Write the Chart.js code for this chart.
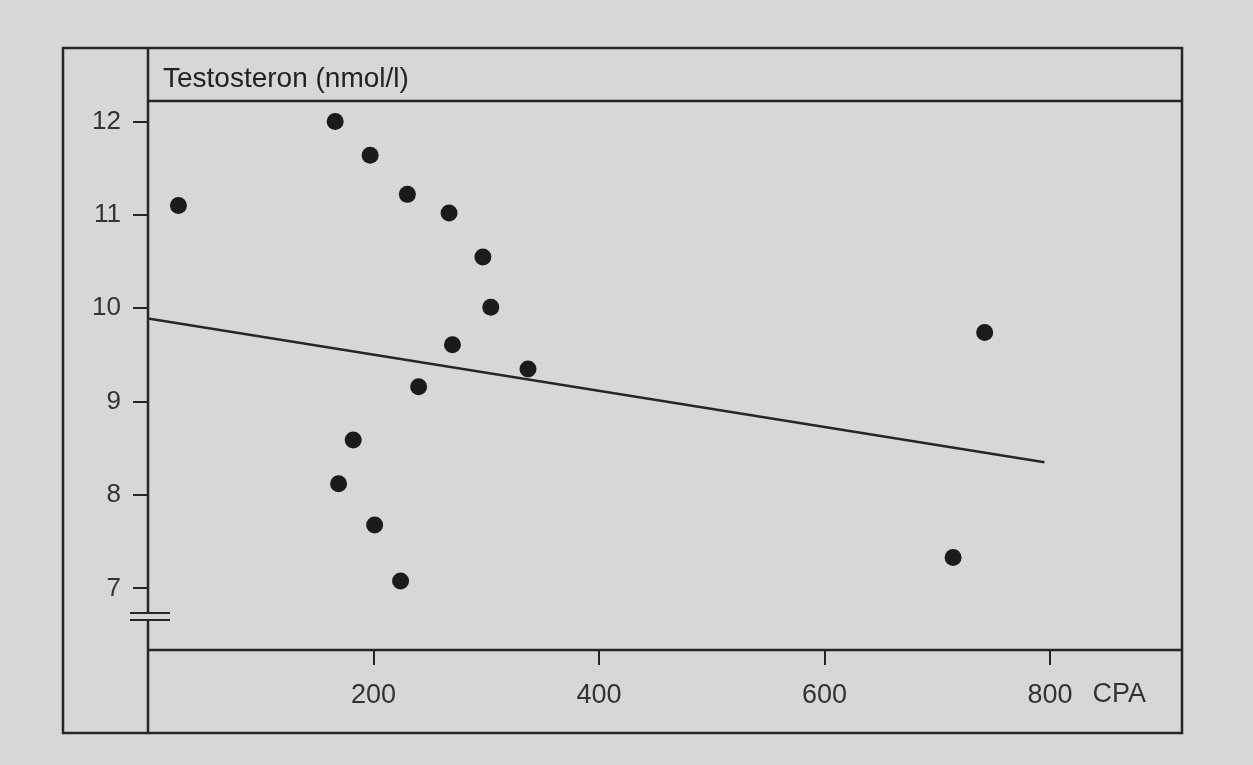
<!DOCTYPE html>
<html>
<head>
<meta charset="utf-8">
<title>Testosteron vs. CPA</title>
<script src="https://cdn.jsdelivr.net/npm/chart.js@4.4.0/dist/chart.umd.min.js"></script>
<style>
    html, body { margin: 0; padding: 0; background: #d7d7d7; }
    canvas { display: block; }
</style>
</head>
<body>
<canvas id="chart" width="1253" height="765"></canvas>
<script>
// Patients: CPA dose vs. serum testosterone
const cpaDose = [27, 166, 197, 230, 267, 297, 304, 270, 337, 240, 182, 169, 201, 224, 742, 714];
const testosterone = [11.10, 12.00, 11.64, 11.22, 11.02, 10.55, 10.01, 9.61, 9.35, 9.16, 8.59, 8.12, 7.68, 7.08, 9.74, 7.33];

// regression line (start / end)
const trendX = [0, 795];
const trendY = [9.89, 8.35];

const xTicks = [200, 400, 600, 800];
const yTicks = [7, 8, 9, 10, 11, 12];
const yTitle = 'Testosteron (nmol/l)';
const xUnit = 'CPA';

const ink = '#262626';
const paper = '#d7d7d7';
const fontFamily = '"Liberation Sans", Arial, Helvetica, sans-serif';

// Draws the box around the figure, the title band, the axis lines and the axis break
const framePlugin = {
    id: 'frame',
    afterDraw(chart) {
        const { ctx, chartArea: a, scales } = chart;
        const boxLeft = chart.options.layout.padding.left;
        const boxTop = 48;
        const boxBottom = scales.x.bottom;

        ctx.save();
        ctx.strokeStyle = ink;
        ctx.lineWidth = 2.5;

        // outer box
        ctx.strokeRect(boxLeft, boxTop, a.right - boxLeft, boxBottom - boxTop);

        // y axis line, full height
        ctx.beginPath();
        ctx.moveTo(a.left, boxTop);
        ctx.lineTo(a.left, boxBottom);
        // title band line
        ctx.moveTo(a.left, a.top);
        ctx.lineTo(a.right, a.top);
        // x axis line
        ctx.moveTo(a.left, a.bottom);
        ctx.lineTo(a.right, a.bottom);
        ctx.stroke();

        // axis break below 7
        const yb = scales.y.getPixelForValue(6.7);
        ctx.fillStyle = paper;
        ctx.fillRect(a.left - 3, yb - 3, 6, 6);
        ctx.lineWidth = 2;
        ctx.beginPath();
        ctx.moveTo(a.left - 18, yb - 3.5);
        ctx.lineTo(a.left + 22, yb - 3.5);
        ctx.moveTo(a.left - 18, yb + 3.5);
        ctx.lineTo(a.left + 22, yb + 3.5);
        ctx.stroke();

        // y title inside the band
        ctx.fillStyle = '#222';
        ctx.font = '28px ' + fontFamily;
        ctx.textBaseline = 'alphabetic';
        ctx.textAlign = 'left';
        ctx.fillText(yTitle, a.left + 15, 87);

        // unit next to the last x tick label
        ctx.font = '27px ' + fontFamily;
        ctx.fillStyle = '#333';
        const last = xTicks[xTicks.length - 1];
        const px = scales.x.getPixelForValue(last) + ctx.measureText(String(last)).width / 2 + 20;
        ctx.textBaseline = 'middle';
        ctx.fillText(xUnit, px, 695);
        ctx.restore();
    }
};

new Chart(document.getElementById('chart'), {
    type: 'scatter',
    data: {
        datasets: [
            {
                label: 'Testosteron',
                data: cpaDose.map((x, i) => ({ x: x, y: testosterone[i] })),
                pointRadius: 8.5,
                pointBackgroundColor: '#1b1b1b',
                pointBorderWidth: 0
            },
            {
                type: 'line',
                label: 'Trend',
                data: trendX.map((x, i) => ({ x: x, y: trendY[i] })),
                borderColor: ink,
                borderWidth: 2.5,
                pointRadius: 0,
                fill: false
            }
        ]
    },
    options: {
        responsive: false,
        animation: false,
        layout: {
            padding: { left: 63, top: 101, right: 71, bottom: 32 }
        },
        scales: {
            x: {
                type: 'linear',
                min: 0,
                max: 917,
                afterBuildTicks: (scale) => { scale.ticks = xTicks.map(v => ({ value: v })); },
                afterFit: (scale) => { scale.height = 83; },
                grid: { drawOnChartArea: false, drawTicks: true, tickLength: 15, color: ink, lineWidth: 2 },
                border: { display: false },
                ticks: {
                    color: '#333',
                    padding: 14,
                    font: { family: fontFamily, size: 27 }
                }
            },
            y: {
                type: 'linear',
                min: 6.34,
                max: 12.22,
                afterBuildTicks: (scale) => { scale.ticks = yTicks.map(v => ({ value: v })); },
                afterFit: (scale) => { scale.width = 85; },
                grid: { drawOnChartArea: false, drawTicks: true, tickLength: 15, color: ink, lineWidth: 2 },
                border: { display: false },
                ticks: {
                    color: '#333',
                    padding: 12,
                    font: { family: fontFamily, size: 26 }
                }
            }
        },
        plugins: {
            legend: { display: false },
            tooltip: { enabled: false }
        }
    },
    plugins: [framePlugin]
});
</script>
</body>
</html>
